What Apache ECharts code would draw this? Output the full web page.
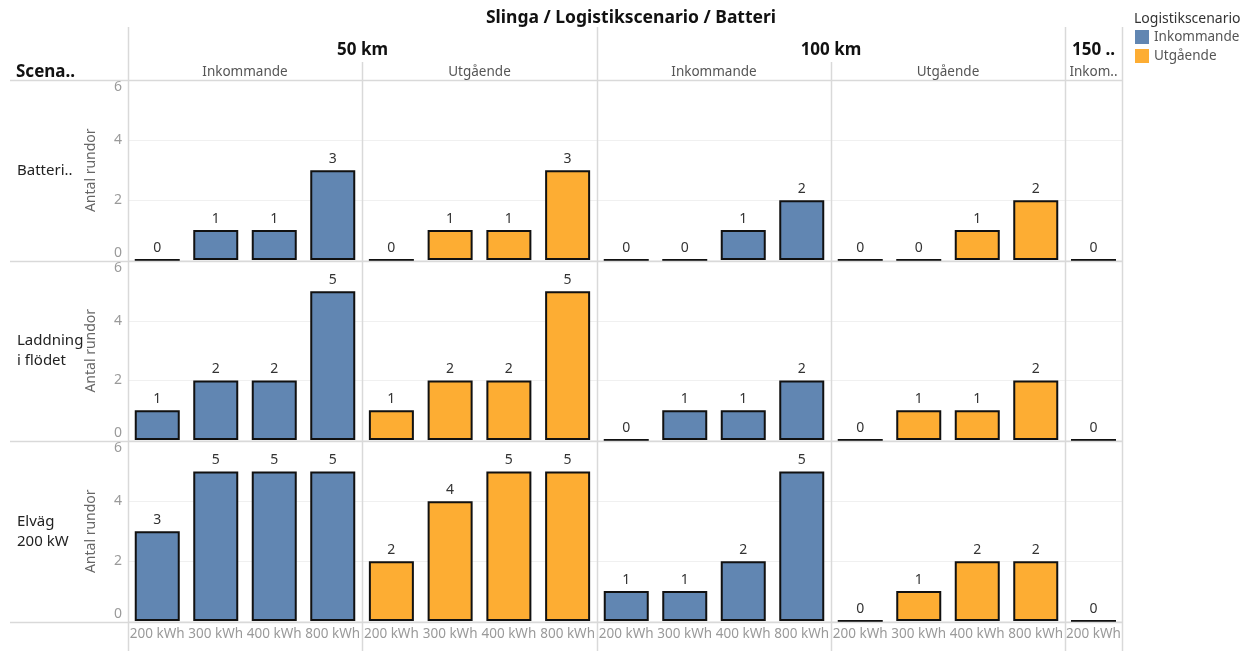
<!DOCTYPE html>
<html>
<head>
<meta charset="utf-8">
<script src="https://cdn.jsdelivr.net/npm/echarts@6/dist/echarts.min.js"></script>
<style>
  html, body { margin: 0; padding: 0; background: #fff; }
  #chart { width: 1245px; height: 651px; }
</style>
</head>
<body>
<div id="chart"></div>
<script>
// Battery sizes along each panel's x axis
const categories = ['200 kWh', '300 kWh', '400 kWh', '800 kWh'];
const lastCategories = ['200 kWh'];
const yTicks = [0, 2, 4, 6];

// Row headers (Scenario) and column headers (Slinga / Logistikscenario)
const scenarios = ['Batteri..', 'Laddning\ni flödet', 'Elväg\n200 kW'];
const distances = ['50 km', '100 km', '150 ..'];
const directions = ['Inkommande', 'Utgående', 'Inkommande', 'Utgående', 'Inkom..'];
const legendNames = ['Inkommande', 'Utgående'];

// Antal rundor per scenario / distance / direction
const batteri50Ink = [0, 1, 1, 3];
const batteri50Utg = [0, 1, 1, 3];
const batteri100Ink = [0, 0, 1, 2];
const batteri100Utg = [0, 0, 1, 2];
const batteri150Ink = [0];

const laddning50Ink = [1, 2, 2, 5];
const laddning50Utg = [1, 2, 2, 5];
const laddning100Ink = [0, 1, 1, 2];
const laddning100Utg = [0, 1, 1, 2];
const laddning150Ink = [0];

const elvag50Ink = [3, 5, 5, 5];
const elvag50Utg = [2, 4, 5, 5];
const elvag100Ink = [1, 1, 2, 5];
const elvag100Utg = [0, 1, 2, 2];
const elvag150Ink = [0];

const rows = [
  [batteri50Ink, batteri50Utg, batteri100Ink, batteri100Utg, batteri150Ink],
  [laddning50Ink, laddning50Utg, laddning100Ink, laddning100Utg, laddning150Ink],
  [elvag50Ink, elvag50Utg, elvag100Ink, elvag100Utg, elvag150Ink]
];

// Layout of the trellis
const colEdges = [128, 362, 597, 831, 1065, 1122];
const rowEdges = [80, 261, 441, 622];
const BLUE = '#6186b2';
const ORANGE = '#fdad33';
const GRID_LINE = '#d9d9d9';
const FONT = 'Noto Sans';

const grids = [], xAxes = [], yAxes = [], series = [];
rows.forEach((rowData, r) => {
  rowData.forEach((vals, c) => {
    const idx = grids.length;
    const isLastCol = c === 4;
    const incoming = (c % 2 === 0);
    grids.push({
      left: colEdges[c],
      width: colEdges[c + 1] - colEdges[c],
      top: rowEdges[r] + 0.5,
      height: rowEdges[r + 1] - rowEdges[r] - 1.5
    });
    xAxes.push({
      type: 'category',
      gridIndex: idx,
      data: isLastCol ? lastCategories : categories,
      axisLine: { show: false },
      axisTick: { show: false },
      axisLabel: {
        show: r === 2,
        interval: 0,
        margin: 6,
        fontSize: 13.5,
        color: '#9a9a9a',
        fontFamily: FONT
      }
    });
    yAxes.push({
      type: 'value',
      gridIndex: idx,
      min: yTicks[0],
      max: yTicks[yTicks.length - 1],
      interval: 2,
      name: c === 0 ? 'Antal rundor' : '',
      nameLocation: 'middle',
      nameGap: 30,
      nameRotate: 90,
      nameTextStyle: { fontSize: 14, color: '#666', fontFamily: FONT },
      axisLine: { show: false },
      axisTick: { show: false },
      axisLabel: {
        show: c === 0,
        margin: 6,
        fontSize: 14,
        color: '#9a9a9a',
        fontFamily: FONT,
        verticalAlignMinLabel: 'bottom',
        verticalAlignMaxLabel: 'top'
      },
      splitLine: { show: true, lineStyle: { color: '#f0f0f0', width: 1 } }
    });
    series.push({
      type: 'bar',
      name: incoming ? legendNames[0] : legendNames[1],
      xAxisIndex: idx,
      yAxisIndex: idx,
      data: vals,
      barWidth: 45,
      itemStyle: {
        color: incoming ? BLUE : ORANGE,
        borderColor: '#111',
        borderWidth: 2
      },
      label: {
        show: true,
        position: 'top',
        distance: 4,
        fontSize: 14,
        color: '#333',
        fontFamily: FONT
      },
      emphasis: { disabled: true },
      animation: false
    });
  });
});

// Separators and header texts
const graphics = [];
function hLine(y, x1, x2) {
  graphics.push({ type: 'line', z: 100, silent: true,
    shape: { x1: x1, y1: y + 0.5, x2: x2, y2: y + 0.5 },
    style: { stroke: GRID_LINE, lineWidth: 1.5 } });
}
function vLine(x, y1, y2) {
  graphics.push({ type: 'line', z: 100, silent: true,
    shape: { x1: x + 0.5, y1: y1, x2: x + 0.5, y2: y2 },
    style: { stroke: GRID_LINE, lineWidth: 1.5 } });
}
function text(str, x, y, size, opts) {
  graphics.push(Object.assign({
    type: 'text', z: 110, silent: true, x: x, y: y,
    style: Object.assign({
      text: str, fontSize: size, fontFamily: FONT, fill: '#222',
      align: 'center', verticalAlign: 'middle'
    }, opts || {})
  }));
}

rowEdges.forEach(y => hLine(y, 10, colEdges[5]));
[colEdges[0], colEdges[2], colEdges[4], colEdges[5]].forEach(x => vLine(x, 27, 651));
[colEdges[1], colEdges[3]].forEach(x => vLine(x, 62, 651));

// Column headers
text('Slinga / Logistikscenario / Batteri', 631, 18, 17.5, { fontWeight: 'bold', fill: '#111' });
text(distances[0], (colEdges[0] + colEdges[2]) / 2, 50, 17, { fontWeight: 'bold', fill: '#111' });
text(distances[1], (colEdges[2] + colEdges[4]) / 2, 50, 17, { fontWeight: 'bold', fill: '#111' });
text(distances[2], (colEdges[4] + colEdges[5]) / 2, 50, 17, { fontWeight: 'bold', fill: '#111' });
directions.forEach((d, c) => {
  text(d, (colEdges[c] + colEdges[c + 1]) / 2, 72, 13.5, { fill: '#555' });
});
text('Scena..', 16, 72, 17, { fontWeight: 'bold', fill: '#111', align: 'left' });

// Row headers
scenarios.forEach((s, r) => {
  text(s, 17, (rowEdges[r] + rowEdges[r + 1]) / 2, 15, { align: 'left', lineHeight: 20, fill: '#222' });
});

// Legend title
text('Logistikscenario', 1134, 19, 14, { align: 'left', fill: '#333' });

const chart = echarts.init(document.getElementById('chart'), null, { renderer: 'canvas' });
chart.setOption({
  backgroundColor: '#fff',
  animation: false,
  grid: grids,
  xAxis: xAxes,
  yAxis: yAxes,
  series: series,
  legend: {
    data: legendNames.map((n, i) => ({ name: n, itemStyle: { color: i === 0 ? BLUE : ORANGE, borderWidth: 0 } })),
    orient: 'vertical',
    left: 1135,
    top: 30,
    padding: 0,
    itemWidth: 14,
    itemHeight: 14,
    itemGap: 5,
    icon: 'rect',
    selectedMode: false,
    textStyle: { fontSize: 13.5, color: '#555', fontFamily: FONT }
  },
  graphic: graphics
});
</script>
</body>
</html>
